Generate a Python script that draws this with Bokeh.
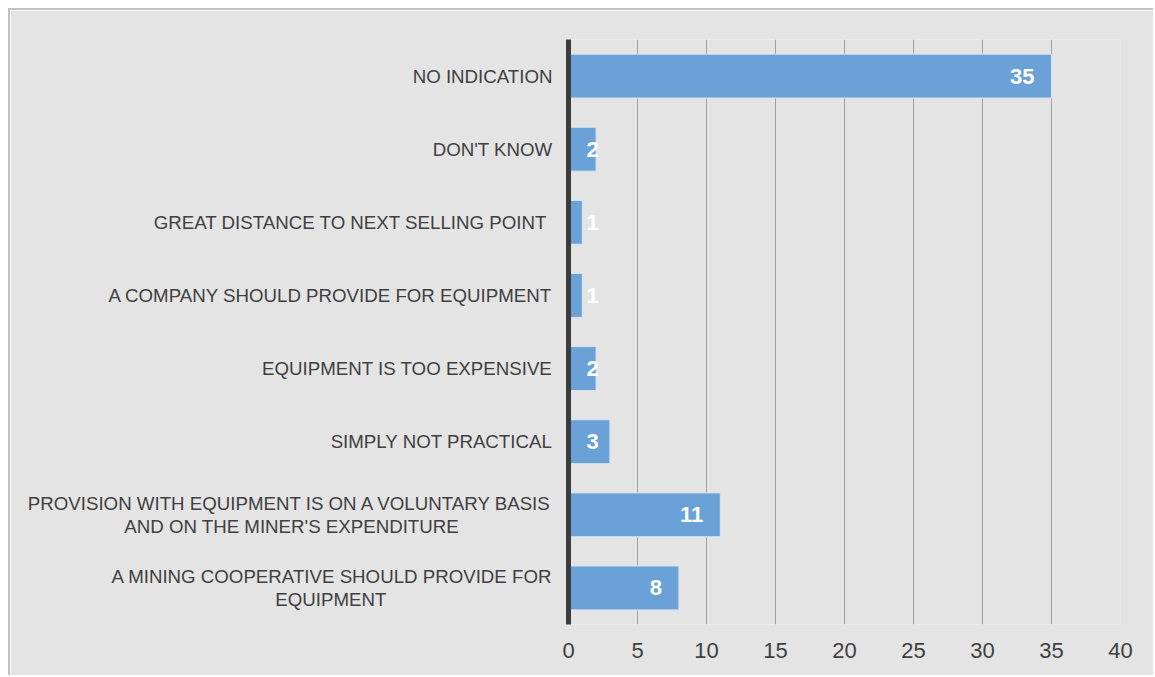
from bokeh.plotting import figure
from bokeh.models import ColumnDataSource, FactorRange, Range1d, FixedTicker
from bokeh.embed import file_html
from bokeh.resources import INLINE

NB = "\u00a0"
categories = [
    "NO INDICATION",
    "DON'T KNOW",
    "GREAT DISTANCE TO NEXT SELLING POINT ",
    "A COMPANY SHOULD PROVIDE FOR EQUIPMENT",
    "EQUIPMENT IS TOO EXPENSIVE",
    "SIMPLY NOT PRACTICAL",
    "PROVISION WITH EQUIPMENT IS ON A VOLUNTARY BASIS\nAND ON THE MINER'S EXPENDITURE" + NB * 18,
    "A MINING COOPERATIVE SHOULD PROVIDE FOR\nEQUIPMENT" + NB * 32,
]
values = [35, 2, 1, 1, 2, 3, 11, 8]
x_ticks = [0, 5, 10, 15, 20, 25, 30, 35, 40]

W, H = 1145, 667
BL, BR, BT, BB = 558, 35, 29, 53
x_max = 40
px_per_unit = (W - BL - BR) / x_max

# label placement: inside end, clamped to inside base for short bars
aligns, offsets, xs = [], [], []
for v in values:
    tw = 12 * len(str(v))
    if v * px_per_unit - 17 - tw < 18:
        aligns.append("left"); offsets.append(18); xs.append(0)
    else:
        aligns.append("right"); offsets.append(-17); xs.append(v)

src = ColumnDataSource(dict(cat=categories, val=values, lx=xs, align=aligns,
                            off=offsets, txt=[str(v) for v in values]))

p = figure(width=W, height=H, output_backend="svg", toolbar_location=None,
           y_range=FactorRange(factors=categories[::-1], range_padding=0),
           x_range=Range1d(0, x_max),
           min_border_left=BL, min_border_right=BR, min_border_top=BT, min_border_bottom=BB,
           background_fill_color="#e4e4e4", border_fill_color="#e4e4e4",
           outline_line_color=None,
           styles={"margin": "8px 0 0 8px",
                   "border-left": "2px solid #c2c2c2", "border-top": "2px solid #c2c2c2"})

p.hbar(y="cat", right="val", left=0, height=0.6, source=src,
       fill_color="#6aa2d7", line_color="#d6e4f2", line_width=1)

p.text(x="lx", y="cat", text="txt", source=src, text_align="align", x_offset="off",
       text_baseline="middle", text_color="white", text_font_size="22px",
       text_font_style="bold", text_font={"value": "Liberation Sans"})

p.ygrid.grid_line_color = None
p.xgrid.grid_line_color = "#a0a0a0"
p.xgrid.grid_line_width = 1
p.xgrid.ticker = FixedTicker(ticks=x_ticks)

p.xaxis.ticker = FixedTicker(ticks=x_ticks)
p.xaxis.axis_line_color = None
p.xaxis.major_tick_line_color = None
p.xaxis.minor_tick_line_color = None
p.xaxis.major_label_text_font = "Liberation Sans"
p.xaxis.major_label_text_font_size = "22px"
p.xaxis.major_label_text_color = "#404040"
p.xaxis.major_label_standoff = 12

p.yaxis.axis_line_color = "#3c3c3c"
p.yaxis.axis_line_width = 5
p.yaxis.major_tick_line_color = None
p.yaxis.minor_tick_line_color = None
p.yaxis.major_label_text_font = "Liberation Sans"
p.yaxis.major_label_text_font_size = "18.7px"
p.yaxis.major_label_text_line_height = 1.1
p.yaxis.major_label_text_color = "#404040"
p.yaxis.major_label_standoff = 10

open("out.html", "w").write(file_html(p, INLINE))
